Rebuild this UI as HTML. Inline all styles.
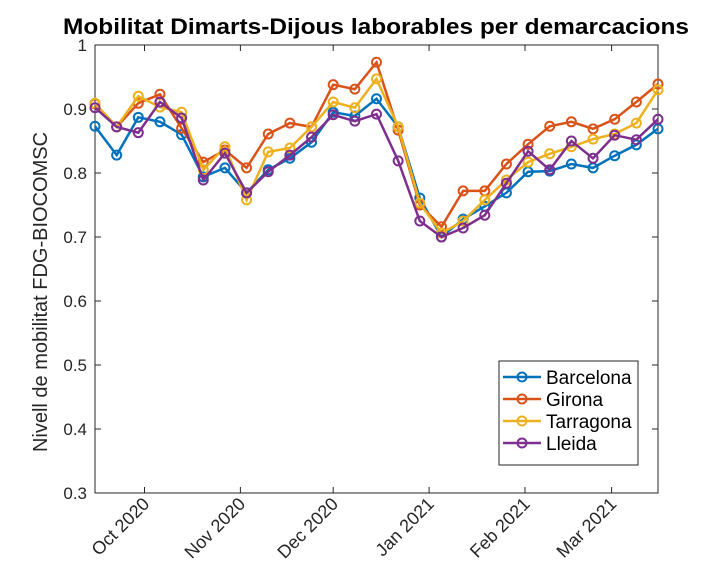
<!DOCTYPE html>
<html><head><meta charset="utf-8"><style>
body{margin:0;background:#fff;}
svg{display:block;font-family:"Liberation Sans",sans-serif;}
</style></head><body>
<svg id="chart" width="728" height="585">
<rect x="0" y="0" width="728" height="585" fill="#fff"/>
<text x="376" y="34" text-anchor="middle" font-size="22" font-weight="bold" fill="#000" textLength="626" lengthAdjust="spacingAndGlyphs">Mobilitat Dimarts-Dijous laborables per demarcacions</text>
<text transform="translate(47,292) rotate(-90)" text-anchor="middle" font-size="20" fill="#262626">Nivell de mobilitat FDG-BIOCOMSC</text>
<g id="axes"></g>
<g id="series"></g>
<g id="legend"></g>
</svg>
<script>
const startDate = "2020-09-15";
const barcelona = [0.873,0.828,0.887,0.88,0.86,0.794,0.808,0.769,0.805,0.823,0.848,0.895,0.889,0.916,0.872,0.761,0.70,0.728,0.748,0.769,0.802,0.803,0.814,0.808,0.827,0.844,0.869];
const girona = [0.908,0.872,0.909,0.923,0.87,0.817,0.836,0.808,0.861,0.878,0.872,0.938,0.931,0.973,0.867,0.75,0.716,0.772,0.772,0.814,0.845,0.873,0.880,0.869,0.884,0.911,0.939];
const tarragona = [0.909,0.872,0.92,0.903,0.895,0.805,0.841,0.758,0.833,0.839,0.872,0.911,0.902,0.947,0.872,0.753,0.706,0.725,0.758,0.789,0.817,0.83,0.841,0.853,0.861,0.878,0.93];
const lleida = [0.902,0.872,0.863,0.911,0.886,0.789,0.831,0.769,0.802,0.828,0.856,0.891,0.881,0.892,0.819,0.725,0.70,0.714,0.734,0.784,0.834,0.805,0.85,0.823,0.859,0.852,0.884];
const seriesNames = ["Barcelona","Girona","Tarragona","Lleida"];
const yTicks = [0.3,0.4,0.5,0.6,0.7,0.8,0.9,1];
const yTickLabels = ["0.3","0.4","0.5","0.6","0.7","0.8","0.9","1"];
const xTickDates = ["2020-10-01","2020-11-01","2020-12-01","2021-01-01","2021-02-01","2021-03-01"];
const xTickLabels = ["Oct 2020","Nov 2020","Dec 2020","Jan 2021","Feb 2021","Mar 2021"];

const NS="http://www.w3.org/2000/svg";
const L=95,R=658,T=45,B=493;
const DAY=86400000;
const t0=Date.parse(startDate);
const allSeries=[barcelona,girona,tarragona,lleida];
const colors=["#0072BD","#D95319","#EDB120","#7E2F8E"];
const n=barcelona.length;
const tEnd=t0+(n-1)*7*DAY;
function xs(t){return L+(t-t0)/(tEnd-t0)*(R-L);}
function ys(v){return B-(v-0.3)/(1-0.3)*(B-T);}
function mk(tag,attrs,parent){const e=document.createElementNS(NS,tag);for(const k in attrs)e.setAttribute(k,attrs[k]);parent.appendChild(e);return e;}
const ax=document.getElementById('axes');
let box=mk('rect',{x:L,y:T,width:R-L,height:B-T,fill:'none',stroke:'#262626','stroke-width':1},ax);


yTicks.forEach((v,i)=>{
  const y=ys(v);
  mk('line',{x1:L,x2:L+6,y1:y,y2:y,stroke:'#262626'},ax);
  mk('line',{x1:R,x2:R-6,y1:y,y2:y,stroke:'#262626'},ax);
  const t=mk('text',{x:L-8,y:y+6,'text-anchor':'end','font-size':17,fill:'#262626'},ax);
  t.textContent=yTickLabels[i];
  
  
});
xTickDates.forEach((d,i)=>{
  const x=xs(Date.parse(d));
  mk('line',{x1:x,x2:x,y1:B,y2:B-6,stroke:'#262626'},ax);
  mk('line',{x1:x,x2:x,y1:T,y2:T+6,stroke:'#262626'},ax);
  const t=mk('text',{transform:`translate(${x+6},${B+12}) rotate(-45)`,'text-anchor':'end','font-size':18,fill:'#262626'},ax);
  t.textContent=xTickLabels[i];
  
  
});
const sg=document.getElementById('series');
allSeries.forEach((arr,si)=>{
  const g=mk('g',{},sg);
  
  
  const pts=arr.map((v,i)=>xs(t0+i*7*DAY).toFixed(1)+','+ys(v).toFixed(1)).join(' ');
  mk('polyline',{points:pts,fill:'none',stroke:colors[si],'stroke-width':2.5},g);
  arr.forEach((v,i)=>{
    const c=mk('circle',{cx:xs(t0+i*7*DAY),cy:ys(v),r:4.5,fill:'none',stroke:colors[si],'stroke-width':2},g);
    
    
  });
});
const lg=document.getElementById('legend');


mk('rect',{x:499,y:361,width:139,height:104,fill:'#fff',stroke:'#262626','stroke-width':1},lg);
seriesNames.forEach((nm,i)=>{
  const y=377+i*22;
  const e=mk('g',{},lg);
  
  
  mk('line',{x1:503,x2:541,y1:y,y2:y,stroke:colors[i],'stroke-width':2.5},e);
  mk('circle',{cx:522,cy:y,r:4.5,fill:'none',stroke:colors[i],'stroke-width':2},e);
  const t=mk('text',{x:546,y:y+7,'font-size':19,fill:'#000'},e);
  t.textContent=nm;
});
</script>
</body></html>
